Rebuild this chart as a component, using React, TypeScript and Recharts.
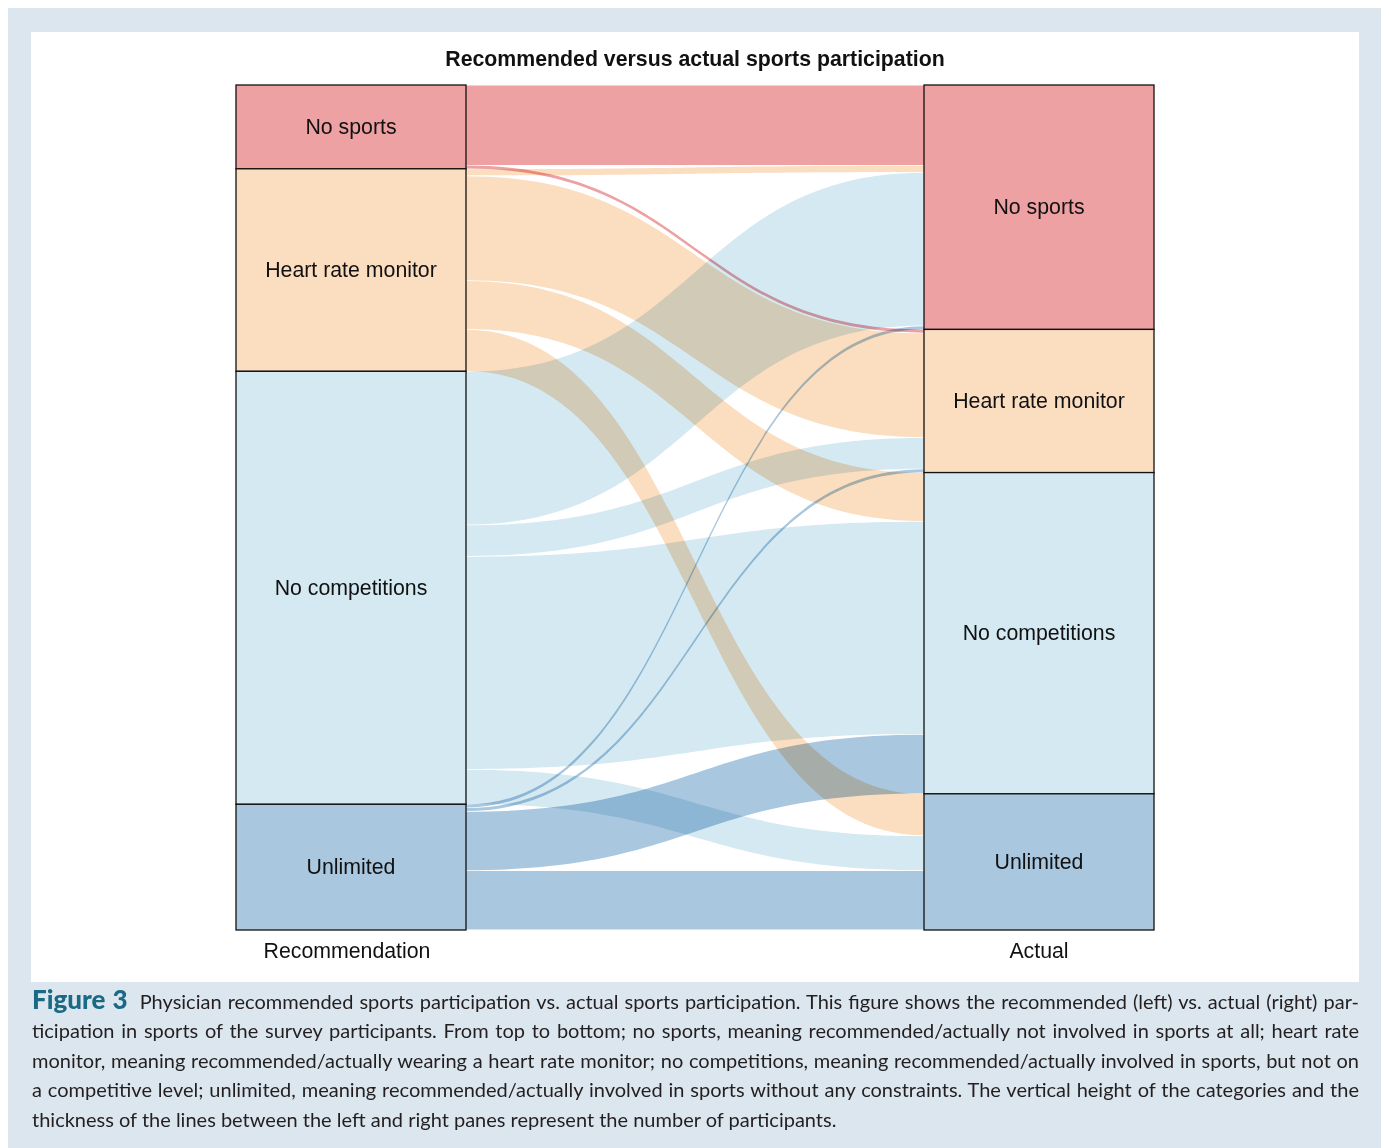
import React from "react";
import { Sankey } from "recharts";

// categories shared by both columns, top to bottom
const categories = ["No sports", "Heart rate monitor", "No competitions", "Unlimited"];
const columnLabels = ["Recommendation", "Actual"];

// participants per recommended category, split by actual category (same order as categories)
const fromNoSports = [23, 1, 0, 0];
const fromHeartRate = [2, 30, 14, 12];
const fromNoCompetitions = [44, 9, 61, 10];
const fromUnlimited = [1, 1, 17, 17];
const flowRows = [fromNoSports, fromHeartRate, fromNoCompetitions, fromUnlimited];

const chartTitle = "Recommended versus actual sports participation";

const captionLines = [
  "Physician recommended sports participation vs. actual sports participation. This figure shows the recommended (left) vs. actual (right) par-",
  "ticipation in sports of the survey participants. From top to bottom; no sports, meaning recommended/actually not involved in sports at all; heart rate",
  "monitor, meaning recommended/actually wearing a heart rate monitor; no competitions, meaning recommended/actually involved in sports, but not on",
  "a competitive level; unlimited, meaning recommended/actually involved in sports without any constraints. The vertical height of the categories and the",
  "thickness of the lines between the left and right panes represent the number of participants.",
];

const CATEGORY_COLORS: Record<string, string> = {
  "No sports": "#eda1a3",
  "Heart rate monitor": "#fbddc0",
  "No competitions": "#d4e9f2",
  Unlimited: "#a9c7df",
};

const LABEL_FONT = "'Liberation Sans', Arial, Helvetica, sans-serif";
const LABEL_SIZE = 21.3;

const sankeyData = {
  nodes: [
    ...categories.map((name) => ({ name })),
    ...categories.map((name) => ({ name })),
  ],
  links: flowRows.flatMap((row, i) =>
    row
      .map((value, j) => ({ source: i, target: categories.length + j, value }))
      .filter((l) => l.value > 0)
  ),
};

function FlowRibbon(props: any) {
  const { sourceX, targetX, sourceY, targetY, sourceControlX, targetControlX, linkWidth, payload } = props;
  const half = Math.max(linkWidth / 2 - 0.4, 1.5);
  const name = payload?.source?.name;
  const fill = CATEGORY_COLORS[name] ?? "#ccc";
  const d = `M${sourceX},${sourceY - half} C${sourceControlX},${sourceY - half} ${targetControlX},${targetY - half} ${targetX},${targetY - half}
    L${targetX},${targetY + half} C${targetControlX},${targetY + half} ${sourceControlX},${sourceY + half} ${sourceX},${sourceY + half} Z`;
  return <path d={d} fill={fill} stroke="none" style={{ mixBlendMode: "multiply" }} />;
}

function CategoryNode(props: any) {
  const { x, y, width, height, payload } = props;
  const isLeft =
    payload?.depth !== undefined ? payload.depth === 0 : !(payload?.sourceLinks?.length > 0);
  const isLast = payload?.name === categories[categories.length - 1];
  return (
    <g>
      <rect
        x={x}
        y={y}
        width={width}
        height={height}
        fill={CATEGORY_COLORS[payload.name]}
        stroke="#111"
        strokeWidth={1.3}
      />
      <text
        x={x + width / 2}
        y={y + height / 2}
        textAnchor="middle"
        dominantBaseline="central"
        fontFamily={LABEL_FONT}
        fontSize={LABEL_SIZE}
        fill="#111"
      >
        {payload.name}
      </text>
      {isLast && (
        <text
          x={x + width / 2 - (isLeft ? 4 : 0)}
          y={y + height + 21}
          textAnchor="middle"
          dominantBaseline="central"
          fontFamily={LABEL_FONT}
          fontSize={LABEL_SIZE}
          fill="#111"
        >
          {isLeft ? columnLabels[0] : columnLabels[1]}
        </text>
      )}
    </g>
  );
}

export default function App() {
  return (
    <div
      style={{
        position: "relative",
        margin: "-1px 0 0 -1px",
        width: 1376,
        height: 1141,
        background: "#dce6ef",
      }}
    >
      <div
        style={{
          position: "absolute",
          left: 24,
          top: 25,
          width: 1328,
          height: 950,
          background: "#ffffff",
        }}
      >
        <div
          style={{
            position: "absolute",
            top: 14,
            left: 0,
            width: "100%",
            textAlign: "center",
            fontFamily: LABEL_FONT,
            fontWeight: "bold",
            fontSize: LABEL_SIZE,
            lineHeight: "26px",
            color: "#111",
          }}
        >
          {chartTitle}
        </div>
        <div style={{ position: "absolute", left: 0, top: 0 }}>
          <Sankey
            width={1328}
            height={950}
            data={sankeyData}
            nodeWidth={230}
            nodePadding={0}
            iterations={0}
            sort={false}
            linkCurvature={0.5}
            margin={{ top: 53, bottom: 52, left: 205, right: 205 }}
            node={(p: any) => <CategoryNode {...p} />}
            link={(p: any) => <FlowRibbon {...p} />}
          />
        </div>
      </div>
      <div
        style={{
          position: "absolute",
          left: 25,
          top: 978,
          width: 1327,
          fontFamily: "Lato, 'Open Sans', sans-serif",
          fontSize: 20,
          lineHeight: "29.4px",
          color: "#231f20",
        }}
      >
        {captionLines.map((line, i) => (
          <div
            key={i}
            style={{
              whiteSpace: "nowrap",
              textAlign: "justify",
              textAlignLast: i < captionLines.length - 1 ? "justify" : "left",
            }}
          >
            {i === 0 && (
              <span style={{ color: "#1b6a85", fontWeight: 900, fontSize: 26, marginRight: 12 }}>Figure 3</span>
            )}
            {line}
          </div>
        ))}
      </div>
    </div>
  );
}
